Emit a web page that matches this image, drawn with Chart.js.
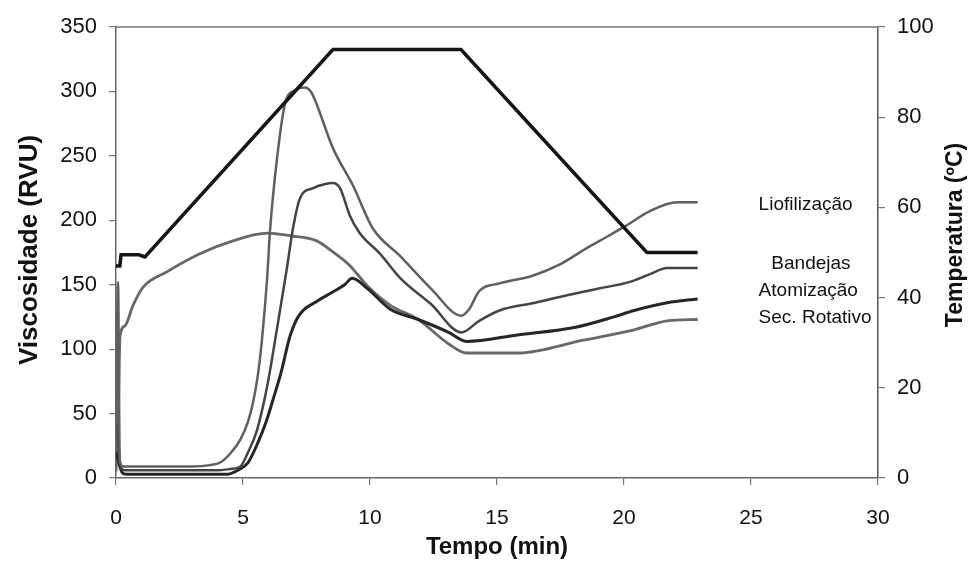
<!DOCTYPE html>
<html>
<head>
<meta charset="utf-8">
<script src="https://cdn.jsdelivr.net/npm/chart.js@4/dist/chart.umd.min.js"></script>
<style>
  body { margin: 0; background: #fff; }
  #wrap { width: 974px; height: 562px; }
</style>
</head>
<body>
<div id="wrap"><canvas id="rvaChart" width="974" height="562"></canvas></div>
<script>
// Tempo (min) e valores
const seriesNames = ['Liofilização', 'Bandejas', 'Atomização', 'Sec. Rotativo'];
const xTicks = [0, 5, 10, 15, 20, 25, 30];
const viscTicks = [0, 50, 100, 150, 200, 250, 300, 350];
const tempTicks = [0, 20, 40, 60, 80, 100];

// Temperatura (ºC), eixo da direita
const tTemp = [0, 0.15, 0.2, 0.9, 1.14, 8.54, 13.58, 20.9, 22.9];
const temp = [47, 47, 49.5, 49.5, 49, 95, 95, 50, 50];

// Viscosidade (RVU)
const tLio = [0, 0.08, 0.15, 0.3, 3.0, 3.7, 4.1, 4.5, 4.9, 5.2, 5.4, 5.6, 5.75, 5.95, 6.06, 6.34, 6.65, 7.05, 7.44, 7.7, 7.9, 8.54, 9.33, 10.1, 11.2, 12.4, 13.6, 13.9, 14.3, 15.1, 16.4, 17.5, 18.5, 19.4, 20.1, 21.0, 22.1, 22.9];
const vLio = [30, 152, 12, 9, 9, 10, 12, 19, 30, 44, 59, 82, 108, 155, 191, 248, 290, 301, 303, 299, 290, 256, 227, 194, 172, 147, 126, 131, 145, 151, 157, 166, 178, 188, 196, 207, 214, 214];

const tBan = [0, 0.2, 0.35, 4.0, 4.5, 4.9, 5.2, 5.55, 5.95, 6.34, 6.73, 6.97, 7.24, 7.76, 8.2, 8.54, 8.82, 9.2, 9.6, 10.4, 11.2, 12.4, 13.6, 14.3, 15.1, 16.5, 17.8, 19.0, 20.2, 21.0, 21.7, 22.9];
const vBan = [45, 8, 6, 6, 7, 9, 20, 37, 71, 116, 163, 194, 217, 225, 228, 229, 225, 204, 190, 174, 155, 135, 113, 122, 130, 136, 142, 147, 152, 158, 163, 163];

const tAto = [0, 0.25, 0.4, 4.4, 4.8, 5.2, 5.6, 5.9, 6.2, 6.5, 6.85, 7.2, 7.9, 8.5, 9.0, 9.3, 9.9, 10.8, 11.9, 13.1, 13.8, 15.8, 18.1, 19.6, 20.4, 21.7, 22.9];
const vAto = [20, 4, 3, 3, 6, 12, 28, 43, 62, 82, 110, 126, 137, 144, 150, 155, 147, 131, 123, 113, 106, 111, 117, 125, 130, 136, 139];

const tSec = [0, 0.08, 0.16, 0.35, 0.67, 1.06, 2.0, 3.3, 4.6, 5.95, 6.85, 7.9, 8.5, 9.2, 9.9, 10.8, 11.9, 13.1, 13.8, 15.8, 18.4, 20.4, 21.7, 22.9];
const vSec = [5, 40, 110, 118, 134, 148, 160, 174, 184, 190, 188, 184, 176, 165, 149, 134, 123, 104, 97, 97, 107, 115, 122, 123];

const FONT = "'Liberation Sans', Arial, sans-serif";

function pares(xs, ys) {
  return xs.map((x, i) => ({ x: x, y: ys[i] }));
}

// rótulos das curvas, eixos com títulos e a linha de cima da moldura
const textoPlugin = {
  id: 'textoPlugin',
  afterDraw(chart) {
    const ctx = chart.ctx;
    const area = chart.chartArea;
    const xs = chart.scales.x;
    const ys = chart.scales.y;

    ctx.save();
    ctx.strokeStyle = '#777';
    ctx.lineWidth = 1.5;
    ctx.beginPath();
    ctx.moveTo(area.left, area.top);
    ctx.lineTo(area.right, area.top);
    ctx.stroke();

    // nomes das séries ao lado do fim de cada curva
    const ultimos = [vLio, vBan, vAto, vSec].map(v => v[v.length - 1]);
    const ajusteX = [25.3, 25.8, 25.3, 25.3];
    const ajusteY = [3, -4, -8, -2];
    ctx.fillStyle = '#111';
    ctx.font = '19px ' + FONT;
    ctx.textAlign = 'left';
    ctx.textBaseline = 'middle';
    seriesNames.forEach((nome, i) => {
      ctx.fillText(nome, xs.getPixelForValue(ajusteX[i]), ys.getPixelForValue(ultimos[i]) + ajusteY[i]);
    });

    // títulos dos eixos
    ctx.font = 'bold 24px ' + FONT;
    ctx.textAlign = 'center';
    ctx.fillText('Tempo (min)', (area.left + area.right) / 2, 547);

    ctx.save();
    ctx.font = 'bold 26px ' + FONT;
    ctx.translate(30, 250);
    ctx.rotate(-Math.PI / 2);
    ctx.fillText('Viscosidade (RVU)', 0, 0);
    ctx.restore();

    ctx.save();
    ctx.font = 'bold 23px ' + FONT;
    ctx.translate(956, 235);
    ctx.rotate(-Math.PI / 2);
    ctx.fillText('Temperatura (ºC)', 0, 0);
    ctx.restore();

    ctx.restore();
  }
};

const eixoGrid = {
  drawOnChartArea: false,
  drawTicks: true,
  tickLength: 7,
  color: '#777',
  lineWidth: 1.2
};

const ctx = document.getElementById('rvaChart').getContext('2d');
const grafico = new Chart(ctx, {
  type: 'line',
  data: {
    datasets: [
      {
        label: 'Temperatura',
        data: pares(tTemp, temp),
        yAxisID: 'y2',
        borderColor: '#151515',
        borderWidth: 3.5,
        tension: 0
      },
      {
        label: seriesNames[0],
        data: pares(tLio, vLio),
        yAxisID: 'y',
        borderColor: '#5f5f5f',
        borderWidth: 2.5,
        tension: 0.3,
        cubicInterpolationMode: 'monotone'
      },
      {
        label: seriesNames[1],
        data: pares(tBan, vBan),
        yAxisID: 'y',
        borderColor: '#444',
        borderWidth: 2.5,
        tension: 0.3,
        cubicInterpolationMode: 'monotone'
      },
      {
        label: seriesNames[2],
        data: pares(tAto, vAto),
        yAxisID: 'y',
        borderColor: '#262626',
        borderWidth: 3,
        tension: 0.3,
        cubicInterpolationMode: 'monotone'
      },
      {
        label: seriesNames[3],
        data: pares(tSec, vSec),
        yAxisID: 'y',
        borderColor: '#686868',
        borderWidth: 2.8,
        tension: 0.3,
        cubicInterpolationMode: 'monotone'
      }
    ]
  },
  options: {
    responsive: false,
    animation: false,
    layout: { padding: { top: 27, left: 0, right: 0, bottom: 0 } },
    elements: { point: { radius: 0 } },
    plugins: {
      legend: { display: false },
      tooltip: { enabled: false }
    },
    scales: {
      x: {
        type: 'linear',
        min: 0,
        max: 30,
        afterBuildTicks: s => { s.ticks = xTicks.map(v => ({ value: v })); },
        afterFit: s => { s.height = 84; },
        ticks: { color: '#111', font: { size: 21, family: FONT }, padding: 21, maxRotation: 0 },
        grid: eixoGrid,
        border: { display: true, color: '#666', width: 1.5 }
      },
      y: {
        position: 'left',
        min: 0,
        max: 350,
        afterBuildTicks: s => { s.ticks = viscTicks.map(v => ({ value: v })); },
        afterFit: s => { s.width = 116; },
        ticks: { color: '#111', font: { size: 22, family: FONT }, padding: 12 },
        grid: eixoGrid,
        border: { display: true, color: '#666', width: 1.5 }
      },
      y2: {
        position: 'right',
        min: 0,
        max: 100,
        afterBuildTicks: s => { s.ticks = tempTicks.map(v => ({ value: v })); },
        afterFit: s => { s.width = 96; },
        ticks: { color: '#111', font: { size: 22, family: FONT }, padding: 12 },
        grid: eixoGrid,
        border: { display: true, color: '#555', width: 1.5 }
      }
    }
  },
  plugins: [textoPlugin]
});
</script>
</body>
</html>
